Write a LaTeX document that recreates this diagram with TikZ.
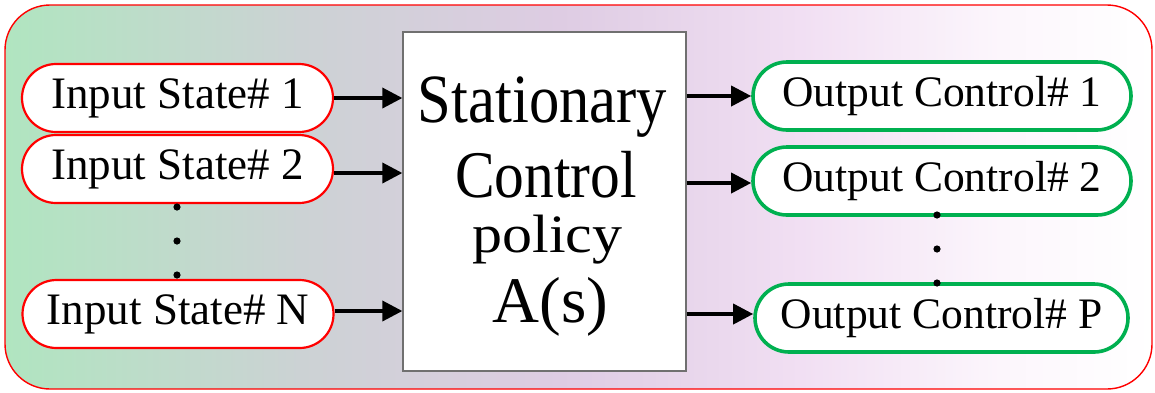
\documentclass[tikz,border=0pt]{standalone}
\usepackage{fontspec}
\setmainfont{Liberation Serif}
\usepackage{graphicx}
\usetikzlibrary{arrows.meta}

% panel colours, left to right
\definecolor{panelA}{HTML}{B0E5C0}
\definecolor{panelB}{HTML}{CCD2D4}
\definecolor{panelC}{HTML}{DECCE3}
\definecolor{panelD}{HTML}{F1DFF3}
\definecolor{panelE}{HTML}{FCF6FC}
\definecolor{outgreen}{HTML}{00B050}
\definecolor{boxgray}{HTML}{707070}

\pgfdeclarehorizontalshading{panelshade}{100bp}{%
  color(0bp)=(panelA); color(25bp)=(panelA); color(37.9bp)=(panelB);
  color(49.2bp)=(panelC); color(59.7bp)=(panelD); color(68.4bp)=(panelE);
  color(75bp)=(white); color(100bp)=(white)}

\tikzset{
  instate/.style={draw=red, line width=2.2pt, fill=white, rounded corners=34pt,
    minimum width=311pt, minimum height=68pt, inner sep=0pt,
    font=\fontsize{45}{50}\selectfont},
  outstate/.style={draw=outgreen, line width=3.6pt, fill=white, rounded corners=34pt,
    minimum height=68pt, inner sep=0pt,
    font=\fontsize{43.5}{48}\selectfont},
  policybox/.style={draw=boxgray, line width=1.3pt, fill=white,
    minimum width=283pt, minimum height=339pt, inner sep=0pt},
  bigline/.style={anchor=base, inner sep=0pt},
  arr/.style={line width=3.6pt, -{Triangle[length=20pt,width=20pt]}},
  vdot/.style={fill=black},
}

\begin{document}
\begin{tikzpicture}[x=1pt,y=-1pt]
\useasboundingbox (0,0) rectangle (1155,392);

% shaded panel
\path[draw=red, line width=1.4pt, rounded corners=45pt, shading=panelshade]
  (5,5) rectangle (1152,389);

% policy block
\node[policybox] (box) at (544.5,201.5) {};
\node[bigline, font=\fontsize{60.6}{66}\selectfont] (t1) at (542.5,122) {\scalebox{1}[1.14]{Stationary}};
\node[bigline, font=\fontsize{59.5}{66}\selectfont] (t2) at (546,197) {\scalebox{1}[1.12]{Control}};
\node[bigline, font=\fontsize{60}{66}\selectfont] (t3) at (547.5,252) {\scalebox{1}[0.9]{policy}};
\node[bigline, font=\fontsize{65}{70}\selectfont] (t4) at (550.5,322) {A(s)};

% inputs
\node[instate] (in1) at (177.5,98) {Input State\# 1};
\node[instate] (in2) at (177.5,169) {Input State\# 2};
\node[instate] (inN) at (178,314) {Input State\# N};

% outputs
\node[outstate, minimum width=378pt] (out1) at (942,96) {Output Control\# 1};
\node[outstate, minimum width=378pt] (out2) at (942,181) {Output Control\# 2};
\node[outstate, minimum width=373pt] (outP) at (941.5,318) {Output Control\# P};

% ellipsis dots
\fill[vdot] (177,207) circle[radius=3.6pt];
\fill[vdot] (177,241) circle[radius=3.6pt];
\fill[vdot] (177,275) circle[radius=3.6pt];
\fill[vdot] (937,215) circle[radius=3.6pt];
\fill[vdot] (937,249) circle[radius=3.6pt];
\fill[vdot] (937,283) circle[radius=3.6pt];

% connectors
\draw[arr] (in1.east) -- (in1.east -| box.west);
\draw[arr] ([yshift=-4pt]in2.east) -- ([yshift=-4pt]in2.east -| box.west);
\draw[arr] ([yshift=3pt]inN.east) -- ([yshift=3pt]inN.east -| box.west);
\draw[arr] (box.east |- out1.west) -- (out1.west);
\draw[arr] ([yshift=-2pt]box.east |- out2.west) -- ([yshift=-2pt]out2.west);
\draw[arr] ([yshift=4pt]box.east |- outP.west) -- ([yshift=4pt]outP.west);
\end{tikzpicture}
\end{document}
